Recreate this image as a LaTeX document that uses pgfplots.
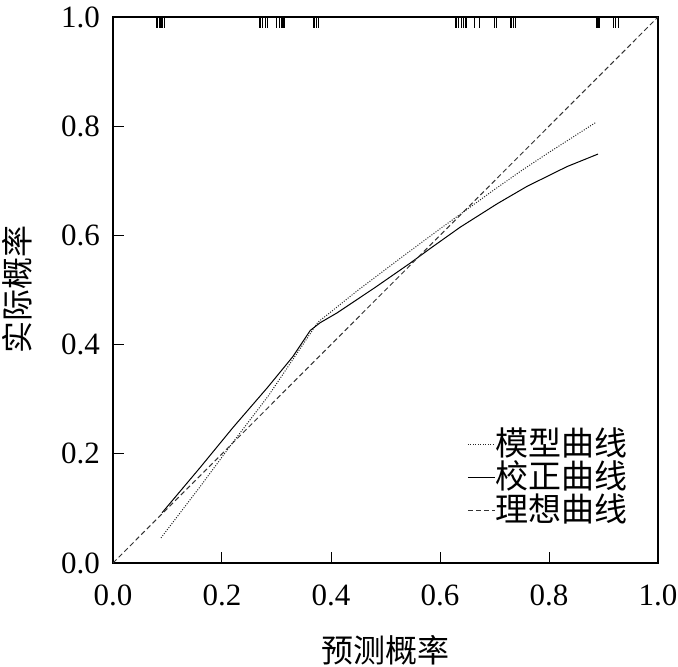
\documentclass[border=0pt]{standalone}
\usepackage{fontspec}
\setmainfont{Liberation Serif}
\newfontfamily\cjk{Noto Sans CJK SC}
\usepackage{pgfplots}
\pgfplotsset{compat=1.18}
\begin{document}
\begin{tikzpicture}
\useasboundingbox (-113pt,-104pt) rectangle (565pt,563pt);
\begin{axis}[
  at={(0,0)}, anchor=south west,
  scale only axis, width=545pt, height=546pt,
  xmin=0, xmax=1, ymin=0, ymax=1,
  xtick={0,0.2,0.4,0.6,0.8,1},
  ytick={0,0.2,0.4,0.6,0.8,1},
  xtick pos=left, ytick pos=left,
  tick align=inside,
  major tick length=11pt,
  tick style={line width=1pt, black},
  axis line style={line width=1.5pt},
  /pgf/number format/.cd, fixed, fixed zerofill, precision=1, assume math mode=true,
  /pgfplots/.cd,
  ticklabel style={font=\fontsize{31}{36}\selectfont},
  yticklabel style={inner sep=0pt, anchor=east, xshift=-13pt},
  xticklabel style={inner sep=0pt, anchor=north, yshift=-22pt},
  xlabel={\cjk 预测概率},
  ylabel={\cjk 实际概率},
  label style={font=\fontsize{32}{36}\selectfont},
  xlabel style={at={(rel axis cs:0.5,0)}, anchor=center, yshift=-87pt},
  ylabel style={at={(rel axis cs:-0.176,0.5)}, anchor=center},
  legend style={at={(rel axis cs:0.650,0.244)}, anchor=north west, draw=none, fill=none,
    inner sep=0pt, row sep=3pt,
    nodes={inner sep=0pt, font=\cjk\fontsize{33}{36}\selectfont, text height=26pt, text depth=4pt}},
  legend cell align=left,
  legend image code/.code={\draw[#1] (0pt,0pt) -- (27pt,0pt);},
]
% model curve (dotted)
\addplot[black!85, line width=1pt, dash pattern=on 1pt off 1.5pt] coordinates {
(0.088,0.046) (0.160,0.140) (0.220,0.221) (0.285,0.306) (0.376,0.441)
(0.450,0.500) (0.527,0.558) (0.600,0.612) (0.650,0.648) (0.700,0.684)
(0.750,0.719) (0.800,0.752) (0.886,0.807)};
\addlegendentry{模型曲线}
% calibrated curve (solid)
\addplot[black, line width=1pt] coordinates {
(0.090,0.092) (0.160,0.175) (0.220,0.248) (0.284,0.322) (0.330,0.378)
(0.362,0.426) (0.380,0.440) (0.411,0.458) (0.480,0.504) (0.545,0.549) (0.582,0.576)
(0.637,0.615) (0.705,0.658) (0.760,0.690) (0.833,0.726) (0.890,0.749)};
\addlegendentry{校正曲线}
% ideal
\addplot[black!80, line width=1pt, dash pattern=on 5pt off 3pt] coordinates {(0,0) (1,1)};
\addlegendentry{理想曲线}
% rug
\addplot[only marks, mark=|, mark size=5.5pt, mark options={line width=1.4pt, black}, forget plot] coordinates {
(0.081,0.99) (0.086,0.99) (0.090,0.99) (0.094,0.99)
(0.270,0.99) (0.274,0.99) (0.280,0.99) (0.284,0.99)
(0.300,0.99) (0.305,0.99) (0.310,0.99) (0.314,0.99)
(0.369,0.99) (0.373,0.99) (0.377,0.99)
(0.629,0.99) (0.634,0.99) (0.639,0.99) (0.643,0.99) (0.648,0.99)
(0.663,0.99) (0.672,0.99) (0.700,0.99) (0.704,0.99)
(0.730,0.99) (0.735,0.99) (0.739,0.99)
(0.888,0.99) (0.892,0.99) (0.918,0.99) (0.922,0.99) (0.927,0.99)};
\end{axis}
\end{tikzpicture}
\end{document}
